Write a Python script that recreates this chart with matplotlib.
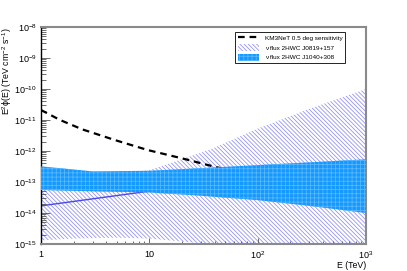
import matplotlib
matplotlib.use("Agg")
import matplotlib.pyplot as plt
import numpy as np
from matplotlib.patches import Patch
from matplotlib.lines import Line2D
from matplotlib.ticker import FixedLocator, FixedFormatter, LogLocator, NullFormatter

plt.rcParams["font.family"] = ["Liberation Sans", "DejaVu Sans"]
plt.rcParams["mathtext.fontset"] = "custom"
plt.rcParams["mathtext.rm"] = "Liberation Sans"
plt.rcParams["mathtext.it"] = "Liberation Sans:italic"
plt.rcParams["hatch.linewidth"] = 0.55

# KM3NeT 0.5 deg sensitivity (E in TeV, E^2 flux)
sens_e = [1, 1.5, 2.4, 4.8, 9.7, 20, 40, 100, 300, 1000]
sens_f = [2.1e-11, 1.0e-11, 5.0e-12, 2.26e-12, 1.07e-12, 5.8e-13, 3.1e-13, 1.5e-13, 7e-14, 4e-14]

# 2HWC J0819+157 neutrino flux: central line and band
j0819_e = [1, 1000]
j0819_f = [1.7e-14, 4.5e-13]
j0819_band_e = [1, 2, 5, 10, 20, 36, 100, 300, 1000]
j0819_lo = [1.3e-15, 1.5e-15, 1.6e-15, 1.5e-15, 1.2e-15, 1.0e-15, 6e-16, 3e-16, 1e-16]
j0819_hi = [1.5e-13, 1.6e-13, 1.9e-13, 2.4e-13, 5.5e-13, 1.1e-12, 5.3e-12, 2.3e-11, 1.0e-10]

# 2HWC J1040+308 neutrino flux band
j1040_e = [1, 3, 10, 30, 100, 300, 1000]
j1040_lo = [5.5e-14, 5.0e-14, 4.6e-14, 3.6e-14, 2.6e-14, 1.7e-14, 1.0e-14]
j1040_hi = [3.2e-13, 2.2e-13, 2.3e-13, 2.8e-13, 3.5e-13, 4.3e-13, 5.4e-13]

fig = plt.figure(figsize=(4.07, 2.71), dpi=100)
ax = fig.add_axes([41 / 407, 1 - 244 / 271, 325 / 407, 217 / 271])
ax.set_xscale("log")
ax.set_yscale("log")
ax.set_xlim(1, 1000)
ax.set_ylim(1e-15, 1e-8)

ax.plot(sens_e, sens_f, color="black", linestyle=(0, (3, 2.2)), linewidth=1.6, zorder=2)

ax.fill_between(j0819_band_e, j0819_lo, j0819_hi, facecolor="none",
                edgecolor="#8c8cff", hatch="\\" * 8, linewidth=0, zorder=1)
ax.plot(j0819_e, j0819_f, color="#4a4ae8", linewidth=1.0, zorder=1.5)

ax.fill_between(j1040_e, j1040_lo, j1040_hi, facecolor="#1499ff",
                edgecolor="#5cb8ff", hatch="++++", linewidth=0, zorder=3)

for s in ["top", "right", "bottom"]:
    ax.spines[s].set_color("#8a8a8a")
    ax.spines[s].set_linewidth(1.5)
ax.spines["left"].set_color("black")
ax.spines["left"].set_linewidth(1.0)

ax.xaxis.set_major_locator(FixedLocator([1, 10, 100, 1000]))
ax.xaxis.set_major_formatter(FixedFormatter(["1", "10", r"$10^{2}$", r"$10^{3}$"]))
ax.xaxis.set_minor_locator(LogLocator(base=10, subs=np.arange(2, 10)))
ax.xaxis.set_minor_formatter(NullFormatter())

yt = [1e-15, 1e-14, 1e-13, 1e-12, 1e-11, 1e-10, 1e-9, 1e-8]
ax.yaxis.set_major_locator(FixedLocator(yt))
ax.yaxis.set_major_formatter(FixedFormatter([r"$10^{%d}$" % k for k in range(-15, -7)]))
ax.yaxis.set_minor_locator(LogLocator(base=10, subs=np.arange(2, 10)))
ax.yaxis.set_minor_formatter(NullFormatter())

ax.tick_params(axis="both", which="both", direction="in", top=False, right=False,
               labelsize=6.5, color="#555555", width=0.6)
ax.tick_params(axis="x", which="major", length=4, pad=4)
ax.tick_params(axis="x", which="minor", length=2.5)
ax.tick_params(axis="y", which="major", length=6.5, pad=3)
ax.tick_params(axis="y", which="minor", length=3.5)

fig.text(366 / 407, 1 - 265 / 271, "E (TeV)", ha="right", va="center", fontsize=6.3)
fig.text(7 / 407, 1 - 27 / 271, r"E$^{2}$ϕ(E) (TeV cm$^{-2}$ s$^{-1}$)", rotation=90,
         ha="center", va="top", fontsize=6.3)

handles = [
    Line2D([], [], color="black", linestyle=(0, (3, 2.2)), linewidth=1.6),
    Patch(facecolor="white", edgecolor="#8c8cff", hatch="\\" * 8, linewidth=0),
    Patch(facecolor="#1499ff", edgecolor="#5cb8ff", hatch="++++", linewidth=0),
]
labels = ["KM3NeT 0.5 deg sensitivity", "ν flux 2HWC J0819+157", "ν flux 2HWC J1040+308"]
leg = ax.legend(handles, labels, loc="upper left", bbox_to_anchor=(235 / 407, 1 - 32 / 271),
                bbox_transform=fig.transFigure, fontsize=4.6, frameon=True, fancybox=False,
                edgecolor="black", framealpha=1, borderpad=0.4, labelspacing=0.5,
                handlelength=3.3, handleheight=1.2, handletextpad=1.0, borderaxespad=0)
leg.get_frame().set_linewidth(0.6)
leg.set_zorder(10)

fig.savefig("out.png", dpi=100)
